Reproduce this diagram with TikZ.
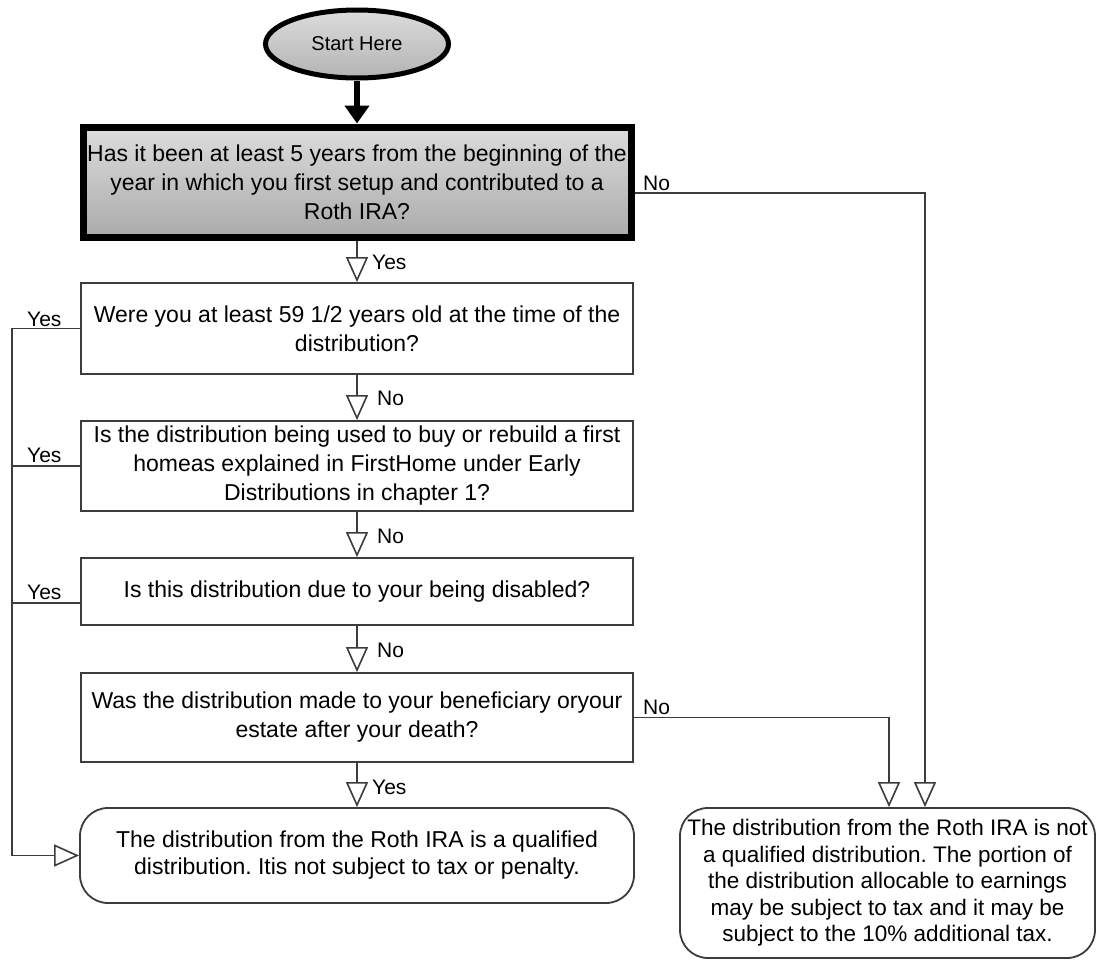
\documentclass[tikz,border=0pt]{standalone}
\usepackage{fontspec}
\setmainfont{Liberation Sans}
\usetikzlibrary{arrows.meta,shapes.geometric}
\definecolor{linegray}{HTML}{3C3C3C}
\definecolor{gtop}{HTML}{DCDCDC}
\definecolor{gbot}{HTML}{ABABAB}
\frenchspacing
\begin{document}
\begin{tikzpicture}[x=1pt,y=-1pt,
  line/.style={draw=linegray, line width=1.6pt},
  box/.style={draw=linegray, line width=1.8pt, fill=white, minimum width=552pt,
    align=center, inner sep=0pt, font=\fontsize{23}{29}\selectfont},
  rbox/.style={box, rounded corners=28pt},
  oarrow/.style={line, -{Triangle[length=25pt, width=22pt, fill=white]}},
  lbl/.style={font=\fontsize{21}{24}\selectfont, inner sep=0pt, anchor=west},
]
\useasboundingbox (0,0) rectangle (1098,961);

% start
\node[ellipse, draw=black, line width=5pt, minimum width=183pt, minimum height=68pt,
  top color=gtop, bottom color=gbot!90!white, inner sep=0pt,
  font=\fontsize{20}{24}\selectfont] (start) at (357,44) {Start Here};

% decision boxes
\node[box, draw=black, line width=7pt, minimum width=548pt, minimum height=110pt,
  top color=gtop, bottom color=gbot] (q1) at (357,182)
  {Has it been at least 5 years from the beginning of the\\year in which you first setup and contributed to a\\Roth IRA?};
\node[box, minimum height=91pt] (q2) at (357,328.5)
  {Were you at least 59 1/2 years old at the time of the\\distribution?};
\node[box, minimum height=90pt] (q3) at (357,466)
  {Is the distribution being used to buy or rebuild a first\\homeas explained in FirstHome under Early\\Distributions in chapter 1?};
\node[box, minimum height=67pt] (q4) at (357,591.5)
  {Is this distribution due to your being disabled?};
\node[box, minimum height=89pt] (q5) at (357,717.5)
  {Was the distribution made to your beneficiary oryour\\estate after your death?};

% outcomes
\node[rbox, minimum width=554pt, minimum height=95pt, font=\fontsize{23}{27}\selectfont] (a6) at (357,855.5)
  {The distribution from the Roth IRA is a qualified\\distribution. Itis not subject to tax or penalty.};
\node[rbox, minimum width=415pt, minimum height=150pt, font=\fontsize{22.5}{26.5}\selectfont] (a7) at (887.5,883)
  {The distribution from the Roth IRA is not\\a qualified distribution. The portion of\\the distribution allocable to earnings\\may be subject to tax and it may be\\subject to the 10\% additional tax.};

% main flow
\draw[draw=black, line width=6pt, -{Triangle[length=18pt, width=24pt]}] (start.south) -- (q1.north);
\draw[oarrow] (q1) -- (q2);
\draw[oarrow] (q2) -- (q3);
\draw[oarrow] (q3) -- (q4);
\draw[oarrow] (q4) -- (q5);
\draw[oarrow] (q5) -- (a6);

\node[lbl] (l12) at (372,262) {Yes};
\node[lbl] (l23) at (377,398) {No};
\node[lbl] (l34) at (377,536) {No};
\node[lbl] (l45) at (377,650) {No};
\node[lbl] (l56) at (372,787) {Yes};

% left Yes rail
\coordinate (railtop) at (12,328.5);
\coordinate (railbot) at (12,855.5);
\draw[line] (q2.west) -- (railtop) -- (railbot);
\draw[line] (q3.west) -- (q3.west -| railtop);
\draw[line] ([yshift=-11.5pt]q4.west) -- ([yshift=-11.5pt]q4.west -| railtop);
\draw[oarrow] (railbot) -- (a6.west);
\node[lbl] (ly2) at (27,319) {Yes};
\node[lbl] (ly3) at (27,455) {Yes};
\node[lbl] (ly4) at (27,592) {Yes};

% right No lines
\coordinate (c1) at (925,193);
\coordinate (c5) at (889,717.5);
\draw[oarrow] ([yshift=-11pt]q1.east) -- (c1) -- (c1 |- a7.north);
\draw[oarrow] (q5.east) -- (c5) -- (c5 |- a7.north);
\node[lbl] (ln1) at (643,183) {No};
\node[lbl] (ln5) at (643,707) {No};
\end{tikzpicture}
\end{document}
